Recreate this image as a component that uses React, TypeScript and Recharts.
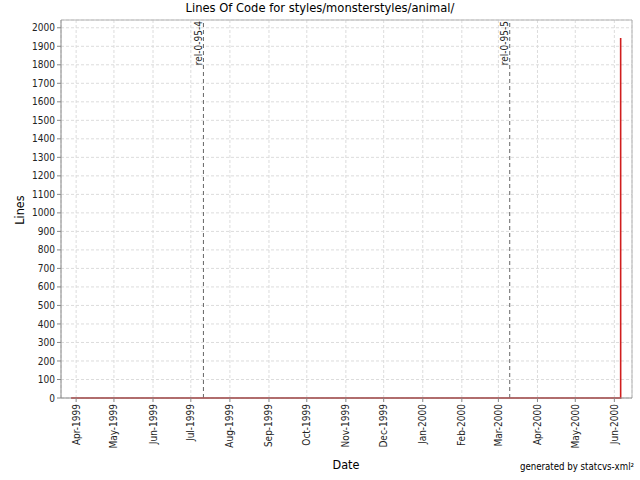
import { CartesianGrid, Line, LineChart, ReferenceLine, XAxis, YAxis } from "recharts";

// lines of code over time (one series, step at the end)
const pointDates = ["1999-03-28", "2000-06-06", "2000-06-06"];
const pointLines = [0, 0, 1945];

// release tags
const releaseNames = ["rel-0-95-4", "rel-0-95-5"];
const releaseDates = ["1999-07-11", "2000-03-10"];

const monthTicks = [
  "1999-04-01", "1999-05-01", "1999-06-01", "1999-07-01", "1999-08-01",
  "1999-09-01", "1999-10-01", "1999-11-01", "1999-12-01", "2000-01-01",
  "2000-02-01", "2000-03-01", "2000-04-01", "2000-05-01", "2000-06-01",
];
const lineTicks = [
  0, 100, 200, 300, 400, 500, 600, 700, 800, 900, 1000,
  1100, 1200, 1300, 1400, 1500, 1600, 1700, 1800, 1900, 2000,
];
const monthNames = ["Jan", "Feb", "Mar", "Apr", "May", "Jun", "Jul", "Aug", "Sep", "Oct", "Nov", "Dec"];

const xStart = "1999-03-20";
const xEnd = "2000-06-15";
const yMax = 2042;

const toTime = (d: string) => new Date(d + "T00:00:00Z").getTime();

const data = pointDates.map((d, i) => ({ t: toTime(d), loc: pointLines[i] }));

const FONT = "'DejaVu Sans Condensed', 'DejaVu Sans', sans-serif";

function monthLabel(t: number) {
  const d = new Date(t);
  return `${monthNames[d.getUTCMonth()]}-${d.getUTCFullYear()}`;
}

function MonthTick({ x, y, payload }: any) {
  return (
    <g transform={`translate(${x},${y})`}>
      <text
        transform="rotate(-90)"
        textAnchor="end"
        dy="0.35em"
        fontSize={10}
        fontFamily={FONT}
        fill="#222"
      >
        {monthLabel(payload.value)}
      </text>
    </g>
  );
}

function releaseLabel(name: string) {
  return (p: any) => {
    const vb = p.viewBox || {};
    return (
      <text
        transform={`translate(${vb.x - 1.5},${vb.y + 1}) rotate(-90)`}
        textAnchor="end"
        fontSize={10}
        fontFamily={FONT}
        fill="#222"
      >
        {name}
      </text>
    );
  };
}

export default function App() {
  return (
    <div style={{ position: "absolute", left: 0, top: 0, width: 640, height: 480, background: "#fff" }}>
      <div
        style={{
          position: "absolute", left: 0, top: 0, width: 640, textAlign: "center",
          fontFamily: FONT, fontSize: 12.8, color: "#000",
        }}
      >
        Lines Of Code for styles/monsterstyles/animal/
      </div>
      <LineChart
        width={640}
        height={480}
        data={data}
        margin={{ top: 20, right: 8, left: 0, bottom: 10 }}
      >
        <CartesianGrid stroke="#dcdcdc" strokeDasharray="3 2" />
        <XAxis
          dataKey="t"
          type="number"
          domain={[toTime(xStart), toTime(xEnd)]}
          ticks={monthTicks.map(toTime)}
          tick={<MonthTick />}
          tickSize={4}
          tickMargin={2}
          height={72}
          stroke="#888"
          interval={0}
        />
        <YAxis
          type="number"
          domain={[0, yMax]}
          ticks={lineTicks}
          tickSize={4}
          tickMargin={2}
          width={61}
          stroke="#888"
          interval={0}
          tick={{ fontSize: 10, fontFamily: FONT, fill: "#222" }}
        />
        <ReferenceLine y={yMax} stroke="#b4b4b4" />
        <ReferenceLine x={toTime(xEnd)} stroke="#b4b4b4" />
        {releaseDates.map((d, i) => (
          <ReferenceLine
            key={releaseNames[i]}
            x={toTime(d)}
            stroke="#666"
            strokeDasharray="4 3"
            label={releaseLabel(releaseNames[i])}
          />
        ))}
        <Line
          type="linear"
          dataKey="loc"
          stroke="#d01e1e"
          strokeWidth={1.6}
          dot={false}
          isAnimationActive={false}
        />
      </LineChart>
      <div
        style={{
          position: "absolute", left: 19, top: 210, transform: "translate(-50%,-50%) rotate(-90deg)",
          fontFamily: FONT, fontSize: 12.5, color: "#000", whiteSpace: "nowrap",
        }}
      >
        Lines
      </div>
      <div
        style={{
          position: "absolute", left: 346, top: 464, transform: "translate(-50%,-50%)",
          fontFamily: FONT, fontSize: 12.5, color: "#000",
        }}
      >
        Date
      </div>
      <div
        style={{
          position: "absolute", right: 6, top: 461,
          fontFamily: FONT, fontSize: 9.6, color: "#000", whiteSpace: "nowrap",
        }}
      >
        generated by statcvs-xml²
      </div>
    </div>
  );
}
